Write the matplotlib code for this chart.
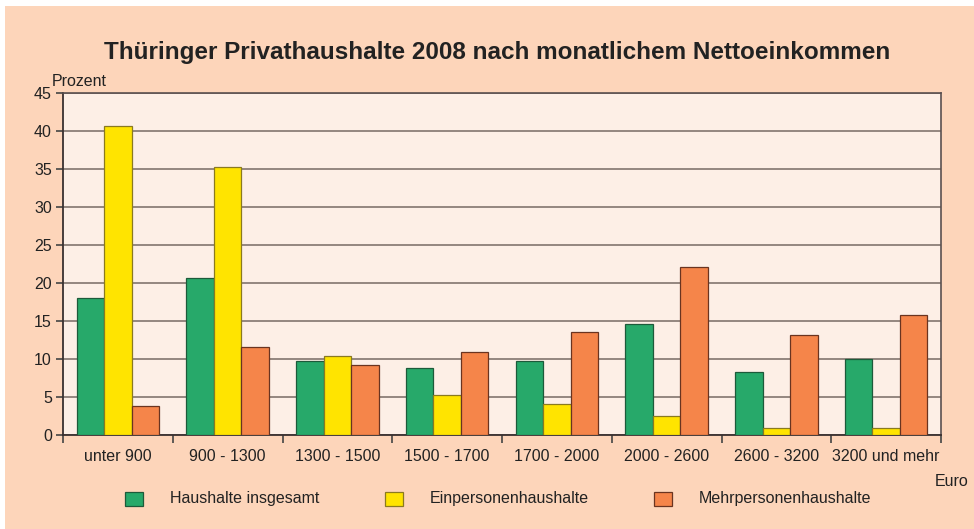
import matplotlib.pyplot as plt
import numpy as np
from matplotlib.patches import Rectangle

categories = ["unter 900", "900 - 1300", "1300 - 1500", "1500 - 1700",
              "1700 - 2000", "2000 - 2600", "2600 - 3200", "3200 und mehr"]
haushalte_insgesamt = [18.0, 20.7, 9.7, 8.8, 9.8, 14.6, 8.3, 10.0]
einpersonen = [40.6, 35.3, 10.4, 5.3, 4.1, 2.5, 0.9, 0.9]
mehrpersonen = [3.8, 11.6, 9.2, 10.9, 13.5, 22.1, 13.1, 15.8]
series_names = ["Haushalte insgesamt", "Einpersonenhaushalte", "Mehrpersonenhaushalte"]
y_ticks = [0, 5, 10, 15, 20, 25, 30, 35, 40, 45]

colors = ["#27a96a", "#ffe400", "#f5854a"]
edges = ["#1d5a3a", "#8a7a20", "#6a3420"]
OUTER = "#fdd5ba"
INNER = "#fdefe6"
TXT = "#222222"

plt.rcParams["font.family"] = ["Liberation Sans", "DejaVu Sans"]

W, H = 974, 529
fig = plt.figure(figsize=(W / 100, H / 100), dpi=100, facecolor="white")
fig.patches.append(Rectangle((5 / W, 0), 1, 1 - 6 / H, transform=fig.transFigure,
                             facecolor=OUTER, edgecolor="none", zorder=-10))

ax = fig.add_axes([63 / W, 1 - 435 / H, (941 - 63) / W, (435 - 93) / H])
ax.set_facecolor(INNER)

x = np.arange(len(categories))
bw = 0.25
for i, vals in enumerate([haushalte_insgesamt, einpersonen, mehrpersonen]):
    ax.bar(x + (i - 1) * bw, vals, width=bw, color=colors[i], edgecolor=edges[i],
           linewidth=0.9, zorder=3)

ax.set_xlim(-0.5, len(categories) - 0.5)
ax.set_ylim(0, 45)
ax.set_yticks(y_ticks)
ax.yaxis.grid(True, color="#8c7f78", linewidth=1.3, zorder=1)
ax.set_axisbelow(True)

# ticks at group boundaries, labels centred under groups
ax.set_xticks(np.arange(len(categories) + 1) - 0.5)
ax.set_xticklabels([])
ax.set_xticks(x, minor=True)
ax.set_xticklabels(categories, minor=True, fontsize=11.5, color=TXT)
ax.tick_params(axis="x", which="major", direction="out", length=6, width=1.2, color="#444444")
ax.tick_params(axis="x", which="minor", length=0, pad=10)
ax.tick_params(axis="y", direction="out", length=5, width=1.2, color="#444444",
               labelsize=11.5, labelcolor=TXT, pad=3)

for side in ["left", "bottom"]:
    ax.spines[side].set_color("#3a3030")
    ax.spines[side].set_linewidth(1.3)
for side in ["top", "right"]:
    ax.spines[side].set_color("#5a5050")
    ax.spines[side].set_linewidth(1.2)

fig.text(497 / W, 1 - 52 / H, "Thüringer Privathaushalte 2008 nach monatlichem Nettoeinkommen",
         ha="center", va="center", fontsize=17.5, fontweight="bold", color=TXT,
         family=["Liberation Sans Narrow", "Liberation Sans", "DejaVu Sans"])
fig.text(52 / W, 1 - 81 / H, "Prozent", ha="left", va="center", fontsize=11.5, color=TXT)
fig.text(968 / W, 1 - 482 / H, "Euro", ha="right", va="center", fontsize=11.5, color=TXT)

# legend
leg_x = [125, 385, 654]
for i, name in enumerate(series_names):
    fig.patches.append(Rectangle((leg_x[i] / W, 1 - 506 / H), 18 / W, 14 / H,
                                 transform=fig.transFigure, facecolor=colors[i],
                                 edgecolor=edges[i], linewidth=0.9))
    fig.text((leg_x[i] + 45) / W, 1 - 498 / H, name, ha="left", va="center",
             fontsize=11.5, color=TXT)

fig.savefig("out.png", dpi=100, facecolor=fig.get_facecolor())
